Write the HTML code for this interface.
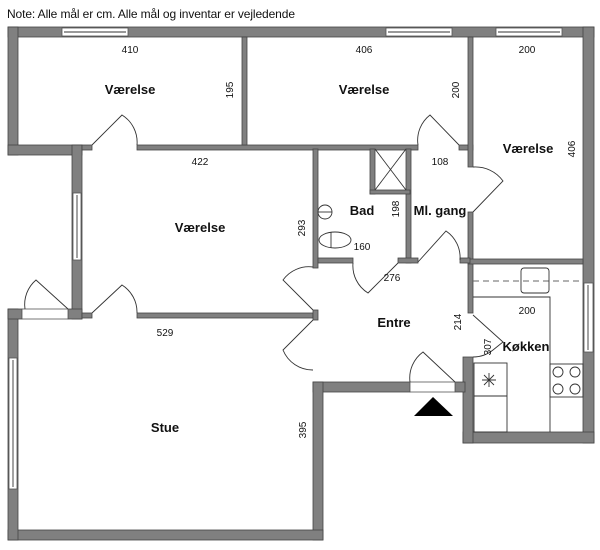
<!DOCTYPE html>
<html><head><meta charset="utf-8"><style>
html,body{margin:0;padding:0;background:#fff;}
svg{display:block;font-family:"Liberation Sans",sans-serif;}
.w{fill:#808080;stroke:#444;stroke-width:0.8}
.t{fill:#fff;stroke:#555;stroke-width:0.8}
.l{fill:none;stroke:#333;stroke-width:0.9}
.d{font-size:10px;fill:#111;text-anchor:middle}
.r{font-size:13px;font-weight:bold;fill:#111;text-anchor:middle}
</style></head><body>
<svg width="600" height="550" viewBox="0 0 600 550">
<text x="7" y="18" font-size="12" textLength="288" fill="#111">Note: Alle mål er cm. Alle mål og inventar er vejledende</text>
<!-- outer walls -->
<rect class="w" x="8" y="27" width="586" height="10"/>
<rect class="w" x="8" y="27" width="10" height="128"/>
<rect class="w" x="8" y="145" width="74" height="10"/>
<rect class="w" x="72" y="145" width="10" height="174"/>
<rect class="w" x="583" y="27" width="11" height="416"/>
<rect class="w" x="463" y="432" width="131" height="11"/>
<rect class="w" x="463" y="357" width="10" height="86"/>
<rect class="w" x="313" y="382" width="97" height="10"/>
<rect class="w" x="455" y="382" width="10" height="10"/>
<rect class="w" x="313" y="382" width="10" height="158"/>
<rect class="w" x="8" y="530" width="315" height="10"/>
<rect class="w" x="8" y="309" width="10" height="231"/>
<rect class="w" x="8" y="309" width="14" height="10"/>
<rect class="w" x="68" y="309" width="14" height="10"/>
<!-- windows -->
<rect class="t" x="62" y="28" width="66" height="8"/><line class="l" x1="64" y1="32" x2="126" y2="32"/>
<rect class="t" x="386" y="28" width="66" height="8"/><line class="l" x1="388" y1="32" x2="450" y2="32"/>
<rect class="t" x="496" y="28" width="66" height="8"/><line class="l" x1="498" y1="32" x2="560" y2="32"/>
<rect class="t" x="73" y="193" width="8" height="67"/><line class="l" x1="77" y1="195" x2="77" y2="258"/>
<rect class="t" x="9" y="358" width="8" height="131"/><line class="l" x1="13" y1="360" x2="13" y2="487"/>
<rect class="t" x="584" y="283" width="9" height="69"/><line class="l" x1="588" y1="285" x2="588" y2="350"/>
<rect class="t" x="22" y="309" width="46" height="10"/>
<rect class="t" x="410" y="382" width="45" height="10"/>
<!-- interior walls -->
<rect class="w" x="82" y="145" width="10" height="5"/>
<rect class="w" x="137" y="145" width="281" height="5"/>
<rect class="w" x="459" y="145" width="14" height="5"/>
<rect class="w" x="242" y="37" width="5" height="108"/>
<rect class="w" x="468" y="37" width="5" height="130"/>
<rect class="w" x="468" y="212" width="5" height="101"/>
<rect class="w" x="468" y="259" width="115" height="5"/>
<rect class="w" x="313" y="149" width="5" height="119"/>
<rect class="w" x="406" y="149" width="5" height="114"/>
<rect class="w" x="370" y="149" width="5" height="45"/>
<rect class="w" x="370" y="190" width="40" height="4"/>
<rect class="w" x="318" y="258" width="35" height="5"/>
<rect class="w" x="398" y="258" width="20" height="5"/>
<rect class="w" x="460" y="258" width="10" height="5"/>
<rect class="w" x="82" y="313" width="10" height="5"/>
<rect class="w" x="137" y="313" width="176" height="5"/>
<rect class="w" x="313" y="310" width="5" height="10"/>
<!-- shower -->
<line class="l" x1="375" y1="149" x2="406" y2="190"/><line class="l" x1="406" y1="149" x2="375" y2="190"/>
<!-- doors -->
<g class="l">
<path d="M92 145 L122 115 A32 32 0 0 1 137 145"/>
<path d="M92 313 L122 285 A32 32 0 0 1 137 313"/>
<path d="M68 309 L36 280 A32 32 0 0 0 25 309"/>
<path d="M459 145 L430 115 A32 32 0 0 0 418 145"/>
<path d="M473 212 L503 181 A34 34 0 0 0 473 167"/>
<path d="M418 262 L446 231 A32 32 0 0 1 460 260"/>
<path d="M398 263 L368 293 A32 32 0 0 1 353 263"/>
<path d="M313 310 L283 280 A32 32 0 0 1 313 267"/>
<path d="M313 320 L283 350 A32 32 0 0 0 313 370"/>
<path d="M473 315 L503 342 L493 350 A32 32 0 0 1 473 357"/>
<path d="M455 382 L423 352 A32 32 0 0 0 410 382"/>
</g>
<!-- bathroom fixtures -->
<circle class="l" cx="325" cy="212" r="7"/><line class="l" x1="318" y1="212" x2="332" y2="212"/>
<ellipse class="l" cx="335" cy="240" rx="16" ry="8"/><line class="l" x1="331" y1="232" x2="331" y2="248"/>
<!-- kitchen -->
<line x1="473" y1="281" x2="583" y2="281" stroke="#666" stroke-width="1" stroke-dasharray="6,4"/>
<rect class="l" x="521" y="268" width="28" height="25" rx="3"/>
<path class="l" d="M473 297 H550 V432"/>
<rect class="l" x="550" y="364" width="33" height="33"/>
<circle class="l" cx="558" cy="372" r="5"/><circle class="l" cx="575" cy="372" r="5"/>
<circle class="l" cx="558" cy="389" r="5"/><circle class="l" cx="575" cy="389" r="5"/>
<rect class="l" x="474" y="363" width="33" height="69"/><line class="l" x1="474" y1="396" x2="507" y2="396"/>
<path class="l" d="M482 380 H496 M489 373 V387 M484 375 L494 385 M494 375 L484 385"/>
<polygon points="414,416 433,397 453,416" fill="#000"/>
<!-- labels -->
<text class="r" x="130" y="94">Værelse</text>
<text class="r" x="364" y="94">Værelse</text>
<text class="r" x="528" y="153">Værelse</text>
<text class="r" x="200" y="232">Værelse</text>
<text class="r" x="362" y="215">Bad</text>
<text class="r" x="440" y="215">Ml. gang</text>
<text class="r" x="394" y="327">Entre</text>
<text class="r" x="526" y="351">Køkken</text>
<text class="r" x="165" y="432">Stue</text>
<text class="d" x="130" y="53">410</text>
<text class="d" x="364" y="53">406</text>
<text class="d" x="527" y="53">200</text>
<text class="d" x="200" y="165">422</text>
<text class="d" x="440" y="165">108</text>
<text class="d" x="362" y="250">160</text>
<text class="d" x="392" y="281">276</text>
<text class="d" x="527" y="314">200</text>
<text class="d" x="165" y="336">529</text>
<text class="d" transform="translate(233,90) rotate(-90)">195</text>
<text class="d" transform="translate(459,90) rotate(-90)">200</text>
<text class="d" transform="translate(575,149) rotate(-90)">406</text>
<text class="d" transform="translate(305,228) rotate(-90)">293</text>
<text class="d" transform="translate(399,209) rotate(-90)">198</text>
<text class="d" transform="translate(461,322) rotate(-90)">214</text>
<text class="d" transform="translate(491,347) rotate(-90)">307</text>
<text class="d" transform="translate(306,430) rotate(-90)">395</text>
</svg>
</body></html>
